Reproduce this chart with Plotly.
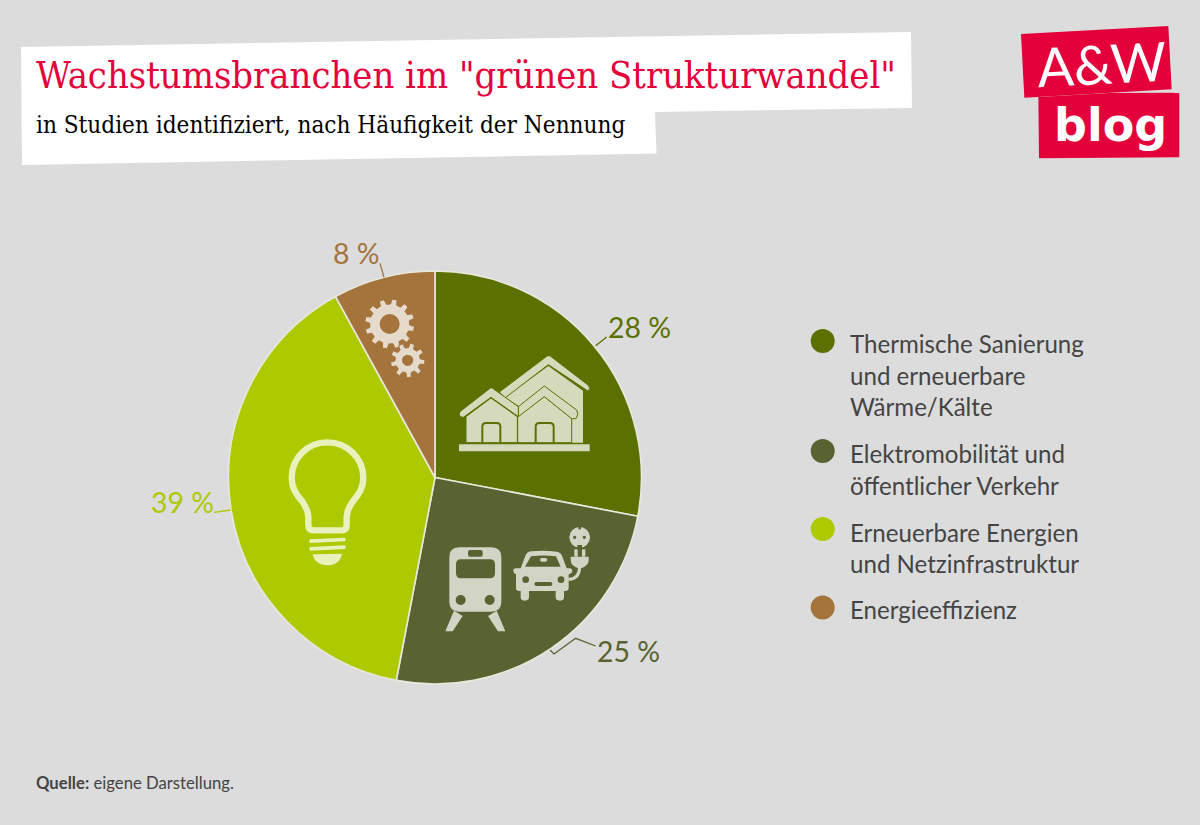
import math
import re
import plotly.graph_objects as go

# ---- data ----
categories = ["Thermische Sanierung<br>und erneuerbare<br>Wärme/Kälte",
              "Elektromobilität und<br>öffentlicher Verkehr",
              "Erneuerbare Energien<br>und Netzinfrastruktur",
              "Energieeffizienz"]
shares = [28, 25, 39, 8]
share_labels = ["28 %", "25 %", "39 %", "8 %"]
colors = ["#5A7100", "#586331", "#AFC900", "#A4743C"]
title_text = 'Wachstumsbranchen im "grünen Strukturwandel"'
subtitle_text = "in Studien identifiziert, nach Häufigkeit der Nennung"
source_text = "<b>Quelle:</b> eigene Darstellung."

W, H = 1200, 825
BG = "#DCDCDC"
RED = "#E4003A"
TXT = "#444444"
SANS = "Lato"
SERIF = "DejaVu Serif Condensed"


def px(x):
    return x / W


def py(y):
    return 1 - y / H


shapes = []
annos = []


def path(d, ox=0, oy=0, s=1.0, fill=None, line=None, lw=0, layer="above"):
    toks = re.findall(r"[A-Za-z]|-?\d+\.?\d*", d)
    out, pair = [], []
    for t in toks:
        if t.isalpha():
            out.append(t)
        else:
            pair.append(float(t))
            if len(pair) == 2:
                out.append(f"{px(ox + pair[0] / s):.5f},{py(oy + pair[1] / s):.5f}")
                pair = []
    shapes.append(dict(type="path", path=" ".join(out), xref="paper", yref="paper", layer=layer,
                       fillcolor=fill if fill else "rgba(0,0,0,0)",
                       line=dict(color=line if line else "rgba(0,0,0,0)", width=lw)))


def circle(cx, cy, r, fill, ox=0, oy=0, s=1.0):
    cx, cy, r = ox + cx / s, oy + cy / s, r / s
    shapes.append(dict(type="circle", xref="paper", yref="paper", layer="above",
                       x0=px(cx - r), x1=px(cx + r), y0=py(cy + r), y1=py(cy - r),
                       fillcolor=fill, line=dict(width=0)))


def text(x, y, t, size, color, family=SANS, anchor="left", angle=0, weight=None):
    f = dict(size=size, color=color, family=family)
    if weight:
        f["weight"] = weight
    annos.append(dict(x=px(x), y=py(y), xref="paper", yref="paper", text=t, showarrow=False,
                      xanchor=anchor, yanchor="middle", align="left", font=f, textangle=angle,
                      borderpad=0, borderwidth=0))


def gear(cx, cy, rout, rroot, teeth, rhole, ox, oy, s, col, bg, phase=0.0):
    pts = []
    step = 2 * math.pi / teeth
    for i in range(teeth):
        a = phase + i * step
        for da, r in ((-0.30, rroot), (-0.19, rout), (0.19, rout), (0.30, rroot)):
            pts.append((cx + r * math.cos(a + da * step), cy + r * math.sin(a + da * step)))
    d = "M " + " L ".join(f"{x:.1f} {y:.1f}" for x, y in pts) + " Z"
    path(d, ox, oy, s, fill=col, line=bg, lw=1)
    circle(cx, cy, rhole, bg, ox, oy, s)


# ---- header boxes (below everything) ----
path("M 21 47 L 911 32 L 912 108 L 655 112 L 656.5 153.5 L 22 165 Z", fill="#FFFFFF", layer="below")
text(36, 75, title_text, 37.75, RED, SERIF)
text(36, 125, subtitle_text, 24.1, "#000000", SERIF)

# ---- logo ----
path("M 33 42 L 475 18 L 485 208 L 43 233 Z", 1010, 20, 3, fill=RED, layer="below")
path("M 85 231 L 300 219 L 485 218 L 508 220 L 508 412 L 87 415 Z", 1010, 20, 3, fill=RED, layer="below")
text(1101, 63, "A&amp;W", 54, "#FFFFFF", SANS, "center", angle=-3)
text(1110, 125, "<b>blog</b>", 46, "#FFFFFF", "DejaVu Sans", "center")

# ---- house icon ----
HC, HG = "#D5DABC", colors[0]
o = (440, 290, 3)
path("M 195 322 L 325 228 L 429 302 L 429 458 L 240 458 L 240 350 Z", *o, fill=HC)
path("M 178 306 L 320 199 Q 326 195 332 199 L 445 286 Q 453 296 445 304 L 325 224 L 195 324 Z", *o, fill=HC, line=HG, lw=1)
path("M 233 378 L 313 320 L 395 385 L 395 458 L 233 458 Z", *o, fill=HC, line=HG, lw=1)
path("M 235 350 L 313 288 L 410 360 Q 418 372 408 386 L 395 386 L 313 320 L 235 380 Z", *o, fill=HC, line=HG, lw=1)
path("M 78 380 L 153 324 L 232 380 L 232 458 L 78 458 Z", *o, fill=HC, line=HG, lw=1)
path("M 60 365 L 150 295 Q 154 292 158 295 L 235 350 L 235 380 L 153 322 L 70 382 Q 53 380 60 365 Z", *o, fill=HC, line=HG, lw=1)
for dx in (0, 160):
    path(f"M {127+dx} 458 L {127+dx} 410 Q {127+dx} 399 {138+dx} 399 L {170+dx} 399 Q {181+dx} 399 {181+dx} 410 L {181+dx} 458", *o, line=HG, lw=2)
path("M 57 463 L 449 463 L 449 484 L 57 484 Z", *o, fill=HC)

# ---- train, car, plug icon ----
TC, TG = "#D2D5C5", colors[1]
o = (430, 510, 3)
path("M 88 112 L 184 112 Q 214 112 214 142 L 214 275 Q 214 305 184 305 L 88 305 Q 58 305 58 275 L 58 142 Q 58 112 88 112 Z", *o, fill=TC)
path("M 93 148 L 180 148 Q 195 148 195 163 L 195 190 Q 195 205 180 205 L 93 205 Q 78 205 78 190 L 78 163 Q 78 148 93 148 Z", *o, fill=TG)
path("M 120 120 L 152 120 Q 158 120 158 126 L 158 134 Q 158 140 152 140 L 120 140 Q 114 140 114 134 L 114 126 Q 114 120 120 120 Z", *o, fill=TG)
circle(92, 270, 15, TG, *o)
circle(179, 270, 15, TG, *o)
path("M 72 302 L 98 318 L 68 364 L 46 364 Z", *o, fill=TC)
path("M 174 318 L 200 302 L 226 364 L 204 364 Z", *o, fill=TC)
path("M 250 182 Q 250 175 258 175 L 272 175 L 287 135 Q 292 125 305 124 Q 340 120 380 125 Q 392 127 396 137 L 410 175 L 420 175 Q 427 176 427 183 Q 427 190 416 193 L 416 235 Q 416 243 405 243 L 402 243 L 402 262 Q 402 272 390 272 Q 377 272 377 262 L 377 243 L 297 243 L 297 262 Q 297 272 284 272 Q 272 272 272 262 L 272 243 L 268 243 Q 258 243 258 235 L 258 193 Q 250 190 250 182 Z", *o, fill=TC)
path("M 303 139 Q 340 134 378 139 L 392 170 L 285 170 Z", *o, fill=TG)
path("M 336 144 L 346 144 Q 352 144 352 149 Q 352 155 346 155 L 336 155 Q 330 155 330 149 Q 330 144 336 144 Z", *o, fill=TC)
circle(287, 209, 10, TG, *o)
circle(393, 209, 10, TG, *o)
path("M 319 216 L 361 216 Q 367 216 367 222 Q 367 228 361 228 L 319 228 Q 313 228 313 222 Q 313 216 319 216 Z", *o, fill=TG)
path("M 415 208 Q 447 208 449 172", *o, line=TC, lw=3)
path("M 422 140 L 476 140 L 476 150 Q 476 170 449 176 Q 422 170 422 150 Z", *o, fill=TC)
path("M 433 118 L 443 118 L 443 140 L 433 140 Z", *o, fill=TC)
path("M 456 118 L 466 118 L 466 140 L 456 140 Z", *o, fill=TC)
circle(449, 82, 31, TC, *o)
circle(434, 82, 5, TG, *o)
circle(463, 82, 5, TG, *o)
path("M 445 50 L 453 50 L 453 58 L 445 58 Z", *o, fill=TG)
path("M 442 105 L 456 105 L 456 114 L 442 114 Z", *o, fill=TG)

# ---- gears ----
GC = "#E5DACB"
gear(359, 282, 75, 60, 12, 30, 270, 230, 3, GC, colors[3], 0.2)
gear(413, 391, 52, 38, 9, 17, 270, 230, 3, GC, colors[3], 0.1)

# ---- bulb ----
BC = "#E9F1BC"
o = (140, 430, 3)
path("M 520 301 L 605 301 Q 620 301 620 285 L 620 260 Q 622 235 640 212 C 660 188 670 170 670 143 C 670 85 622 37 562 37 C 502 37 455 85 455 143 C 455 170 465 188 485 212 C 500 232 505 245 505 262 L 505 285 Q 505 301 520 301 Z", *o, line=BC, lw=6.4)
path("M 510 328 L 615 323 Q 620 328 615 334 L 510 339 Q 505 333 510 328 Z", *o, fill=BC)
path("M 510 351 L 615 346 Q 620 351 615 357 L 510 362 Q 505 356 510 351 Z", *o, fill=BC)
path("M 518 373 L 606 371 Q 600 405 562 406 Q 524 405 518 373 Z", *o, fill=BC)

# ---- leader lines and percentage labels ----
path("M 467 167 L 500 141", 440, 290, 3, line=colors[0], lw=1.3)
path("M 360 420 L 372 432 L 437 385 L 497 408", 430, 510, 3, line=colors[1], lw=1.3)
path("M 222 247 L 272 240", 140, 430, 3, line=colors[2], lw=1.3)
path("M 330 100 L 342 142", 270, 230, 3, line=colors[3], lw=1.3)
label_xy = [(608, 326.5), (597, 650.5), (151, 502), (333, 253)]
for (lx, ly), lab, c in zip(label_xy, share_labels, colors):
    text(lx, ly, lab, 28.4, c, SANS)

# ---- legend ----
legend_dots = [341, 451, 529, 607.5]
legend_first_line = [343.5, 453.5, 532, 609]
line_step = 31.7
for dy, ty, cat, c in zip(legend_dots, legend_first_line, categories, colors):
    circle(822.7, dy, 12, c)
    for i, part in enumerate(cat.split("<br>")):
        text(849.5, ty + i * line_step, part, 24.1, TXT, SANS)

text(36, 783, source_text, 16.7, TXT, SANS)

pie = go.Pie(values=shares, labels=[c.replace("<br>", " ") for c in categories], sort=False,
             direction="clockwise", rotation=0, textinfo="none", hoverinfo="skip", showlegend=False,
             marker=dict(colors=colors, line=dict(color="#E8E8DC", width=1.6)),
             domain=dict(x=[px(435 - 206.5), px(435 + 206.5)], y=[py(477.5 + 206.5), py(477.5 - 206.5)]))

fig = go.Figure(pie)
fig.update_layout(width=W, height=H, margin=dict(l=0, r=0, t=0, b=0), paper_bgcolor=BG, plot_bgcolor=BG,
                  shapes=shapes, annotations=annos, showlegend=False)
fig.write_html("out.html", config=dict(displayModeBar=False),
               post_script="document.body.style.margin='0';document.body.style.background='#DCDCDC';")
